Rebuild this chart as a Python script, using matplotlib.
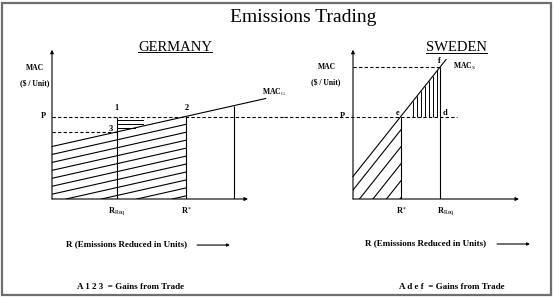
import numpy as np
import matplotlib.pyplot as plt
from matplotlib.lines import Line2D
from matplotlib.patches import Rectangle

plt.rcParams.update({
    "font.family": "Liberation Serif",
    "mathtext.fontset": "custom",
    "mathtext.rm": "Liberation Serif",
    "mathtext.it": "Liberation Serif:italic",
    "mathtext.bf": "Liberation Serif:bold",
})

INK = "black"
LW = 0.8
DASH = (0, (3, 2))

# ── data ──────────────────────────────────────────────────────────────────
P = 5.5                       # permit price

ger_mac_x = [0.0, 10.9]       # Germany marginal abatement cost line
ger_mac_y = [3.5, 6.7]
ger_r_req = 3.3
ger_r_star = 6.85
ger_r_max = 9.3

swe_mac_x = [0.0, 4.75]       # Sweden marginal abatement cost line
swe_mac_y = [1.5, 9.3]
swe_r_star = 2.45
swe_r_req = 4.45

ger_hatch_step = 0.53         # shading of the cost areas
swe_hatch_shift = [0.55, 1.24, 1.93, 2.62, 3.31]
tri_levels = [5.25, 5.0, 4.75]
swe_vert_x = [3.05, 3.26, 3.47, 3.68, 3.89, 4.10, 4.31]


def mac(x, xs, ys):
    slope = (ys[1] - ys[0]) / (xs[1] - xs[0])
    return ys[0] + slope * (np.asarray(x) - xs[0])


W, H = 554, 298
fig = plt.figure(figsize=(W / 100, H / 100), dpi=100)

PX_X, PX_Y = 19.6, 15.0      # pixels per data unit


def make_ax(x0_px, y0_px, xmax, ymax):
    ax = fig.add_axes([x0_px / W, (H - y0_px) / H,
                       xmax * PX_X / W, ymax * PX_Y / H])
    ax.set_xlim(0, xmax)
    ax.set_ylim(0, ymax)
    ax.axis("off")
    return ax


def axes_arrows(ax, xend, yend):
    ap = dict(arrowstyle="-|>", color=INK, lw=LW, mutation_scale=5,
              shrinkA=0, shrinkB=0)
    ax.annotate("", xy=(0, yend), xytext=(0, 0), arrowprops=ap,
                annotation_clip=False)
    ax.annotate("", xy=(xend, 0), xytext=(0, 0), arrowprops=ap,
                annotation_clip=False)


small = dict(fontsize=5.5, fontweight="bold", color=INK)
lab = dict(fontsize=6, fontweight="bold", color=INK, ha="center", va="center")

# ── Germany ───────────────────────────────────────────────────────────────
axg = make_ax(52, 199, 12.5, 10.5)
axes_arrows(axg, 10.0, 9.95)

axg.plot(ger_mac_x, ger_mac_y, color=INK, lw=LW, clip_on=False)
g_slope = (ger_mac_y[1] - ger_mac_y[0]) / (ger_mac_x[1] - ger_mac_x[0])
g3 = mac(ger_r_req, ger_mac_x, ger_mac_y)

axg.plot([0, 11.9], [P, P], color=INK, lw=LW, ls=DASH, clip_on=False)
axg.plot([0, ger_r_req], [g3, g3], color=INK, lw=LW, ls=DASH)
axg.vlines([ger_r_req, ger_r_star], 0, P, color=INK, lw=LW)
axg.vlines(ger_r_max, 0, mac(ger_r_max, ger_mac_x, ger_mac_y), color=INK, lw=LW)

for k in range(1, 11):
    off = k * ger_hatch_step
    xs = max(0.0, (off - ger_mac_y[0]) / g_slope)
    xx = np.array([xs, ger_r_star])
    axg.plot(xx, mac(xx, ger_mac_x, ger_mac_y) - off, color=INK, lw=LW)

for lev in tri_levels:
    x_end = min(ger_r_req + 1.35, (lev - ger_mac_y[0]) / g_slope)
    axg.plot([ger_r_req, x_end], [lev, lev], color=INK, lw=0.7)

axg.text(-0.87, 8.73, "MAC", ha="center", va="center", **small)
axg.text(-0.87, 7.73, "($ / Unit)", ha="center", va="center", **small)
axg.text(-0.3, P, "P", ha="right", va="center", fontsize=6, fontweight="bold")
axg.text(ger_r_req, P + 0.55, "1", **lab)
axg.text(ger_r_star, P + 0.55, "2", **lab)
axg.text(ger_r_req - 0.3, g3 + 0.2, "3", **lab)
axg.text(10.7, 7.13, r"MAC$_{\mathrm{G}}$", ha="left", va="center", **small)
axg.text(ger_r_req, -0.8, r"R$_{\mathrm{Req}}$", **lab)
axg.text(ger_r_star, -0.8, r"R$^{*}$", **lab)
t_ger = axg.text(6.28, 10.13, "GERMANY", ha="center", va="center", fontsize=10.5)
axg.text(3.78, -3.0, "R (Emissions Reduced in Units)", ha="center", va="center",
         fontsize=6.5, fontweight="bold")
axg.annotate("", xy=(9.08, -3.07), xytext=(7.4, -3.07), annotation_clip=False,
             arrowprops=dict(arrowstyle="-|>", color=INK, lw=LW, mutation_scale=4,
                             shrinkA=0, shrinkB=0))
axg.text(4.03, -5.85, "A 1 2 3  = Gains from Trade", ha="center", va="center",
         fontsize=6.5, fontweight="bold")

# ── Sweden ────────────────────────────────────────────────────────────────
axs = make_ax(353, 199, 10.0, 10.5)
axes_arrows(axs, 8.47, 9.95)

axs.plot(swe_mac_x, swe_mac_y, color=INK, lw=LW, clip_on=False)
s_slope = (swe_mac_y[1] - swe_mac_y[0]) / (swe_mac_x[1] - swe_mac_x[0])
sf = mac(swe_r_req, swe_mac_x, swe_mac_y)

axs.plot([-3.5, 5.3], [P, P], color=INK, lw=LW, ls=DASH, clip_on=False)
axs.plot([0, swe_r_req], [sf, sf], color=INK, lw=LW, ls=DASH)
axs.vlines(swe_r_star, 0, P, color=INK, lw=LW)
axs.vlines(swe_r_req, 0, sf, color=INK, lw=LW)

for s in swe_hatch_shift:
    xs = max(0.0, s - swe_mac_y[0] / s_slope)
    xx = np.array([xs, swe_r_star])
    axs.plot(xx, swe_mac_y[0] + s_slope * (xx - s), color=INK, lw=LW)

vx = np.array(swe_vert_x)
axs.vlines(vx, P, mac(vx, swe_mac_x, swe_mac_y), color=INK, lw=0.7)

axs.text(-1.33, 8.8, "MAC", ha="center", va="center", **small)
axs.text(-1.38, 7.8, "($ / Unit)", ha="center", va="center", **small)
axs.text(-0.4, P, "P", ha="right", va="center", fontsize=6, fontweight="bold")
axs.text(swe_r_star - 0.2, P + 0.25, "e", **lab)
axs.text(swe_r_req + 0.25, P + 0.25, "d", **lab)
axs.text(swe_r_req - 0.05, sf + 0.4, "f", **lab)
axs.text(5.1, 8.87, r"MAC$_{\mathrm{S}}$", ha="left", va="center", **small)
axs.text(swe_r_star, -0.8, r"R$^{*}$", **lab)
axs.text(swe_r_req + 0.3, -0.8, r"R$_{\mathrm{Req}}$", **lab)
t_swe = axs.text(5.3, 10.07, "SWEDEN", ha="center", va="center", fontsize=10.5)
axs.text(3.72, -2.93, "R (Emissions Reduced in Units)", ha="center", va="center",
         fontsize=6.5, fontweight="bold")
axs.annotate("", xy=(9.03, -3.0), xytext=(7.35, -3.0), annotation_clip=False,
             arrowprops=dict(arrowstyle="-|>", color=INK, lw=LW, mutation_scale=4,
                             shrinkA=0, shrinkB=0))
axs.text(5.05, -5.85, "A d e f  = Gains from Trade", ha="center", va="center",
         fontsize=6.5, fontweight="bold")

# ── title, underlines, frame ──────────────────────────────────────────────
fig.text(303 / W, 1 - 18 / H, "Emissions Trading", ha="center", va="center", fontsize=14)

fig.canvas.draw()
for t in (t_ger, t_swe):
    bb = t.get_window_extent().transformed(fig.transFigure.inverted())
    fig.add_artist(Line2D([bb.x0, bb.x1], [bb.y0 + 0.006] * 2,
                          transform=fig.transFigure, color=INK, lw=0.7))

fig.add_artist(Rectangle((2 / W, 3 / H), 549 / W, 292 / H, transform=fig.transFigure,
                         fill=False, edgecolor="#6e6e6e", lw=1.6))

fig.savefig("out.png", dpi=100)
